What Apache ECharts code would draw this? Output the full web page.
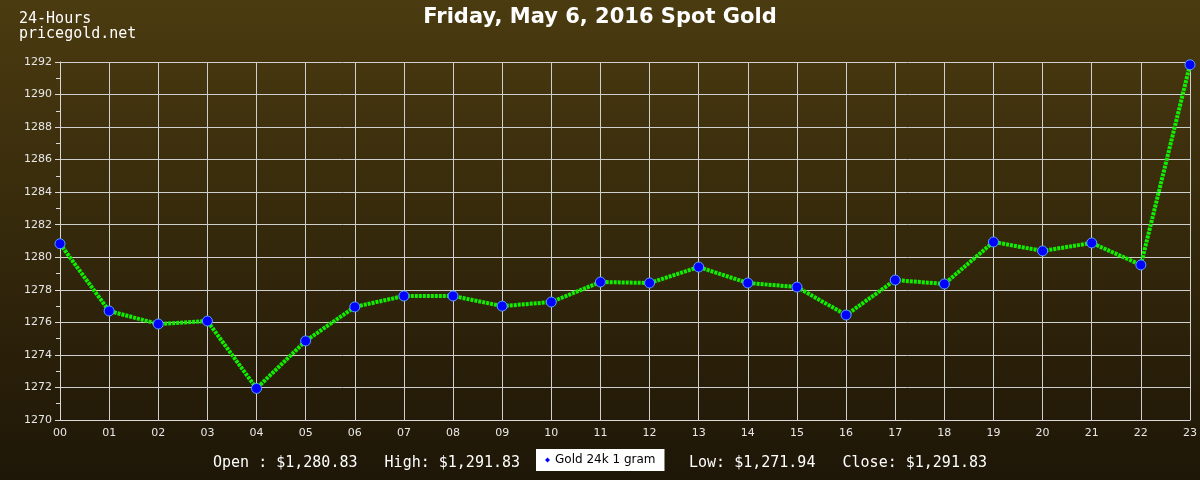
<!DOCTYPE html>
<html><head><meta charset="utf-8">
<script src="https://cdn.jsdelivr.net/npm/echarts@6/dist/echarts.min.js"></script>
<style>html,body{margin:0;padding:0;background:#2b200c}#c{width:1200px;height:480px}</style>
</head><body><div id="c"></div>
<script>
const hours = ['00','01','02','03','04','05','06','07','08','09','10','11','12','13','14','15','16','17','18','19','20','21','22','23'];
const prices = [1280.83,1276.70,1275.90,1276.08,1271.94,1274.86,1276.95,1277.62,1277.62,1277.00,1277.25,1278.48,1278.42,1279.40,1278.42,1278.17,1276.45,1278.60,1278.36,1280.94,1280.39,1280.88,1279.53,1291.83];
const yTicks = [1270,1292,2];
const titleText = 'Friday, May 6, 2016 Spot Gold';
const seriesName = 'Gold 24k 1 gram';
const statsLeft = 'Open : $1,280.83   High: $1,291.83';
const statsRight = 'Low: $1,271.94   Close: $1,291.83';

const chart = echarts.init(document.getElementById('c'));
chart.setOption({
  backgroundColor: new echarts.graphic.LinearGradient(0,0,0,1,[{offset:0,color:'#4b3b10'},{offset:1,color:'#1e1607'}]),
  animation:false,
  title:{text:titleText,left:'center',top:2,textStyle:{color:'#ffffff',fontSize:21,fontWeight:'bold',fontFamily:'DejaVu Sans'}},
  graphic:[
    {type:'text',left:19,top:12,style:{text:'24-Hours\npricegold.net',fill:'#ffffff',font:'15px "DejaVu Sans Mono"',lineHeight:15}},
    {type:'text',left:213,top:456,style:{text:statsLeft,fill:'#ffffff',font:'15px "DejaVu Sans Mono"'}},
    {type:'text',left:689,top:456,style:{text:statsRight,fill:'#ffffff',font:'15px "DejaVu Sans Mono"'}}
  ],
  legend:{data:[{name:seriesName,itemStyle:{color:'#0000ff',borderWidth:0}}],left:536,top:449,backgroundColor:'#ffffff',padding:[5,9,5,9],icon:'diamond',itemWidth:5,itemHeight:5,itemGap:8,
    textStyle:{color:'#000',fontSize:12,fontFamily:'DejaVu Sans'},borderRadius:0},
  grid:{left:60,right:10,top:62,bottom:60},
  xAxis:{type:'category',data:hours,boundaryGap:false,
    axisLine:{lineStyle:{color:'#d8d8d8'}},axisTick:{show:false},
    axisLabel:{color:'#e8e8e8',fontSize:11,fontFamily:'DejaVu Sans',margin:8,interval:0},
    splitLine:{show:true,interval:0,lineStyle:{color:'#cfcfcf',width:1}}},
  yAxis:{type:'value',min:yTicks[0],max:yTicks[1],interval:yTicks[2],
    axisLine:{show:true,lineStyle:{color:'#d8d8d8'}},
    axisTick:{show:true,length:5,lineStyle:{color:'#d8d8d8'}},
    minorTick:{show:true,splitNumber:2,length:4,lineStyle:{color:'#d8d8d8'}},
    axisLabel:{color:'#e8e8e8',fontSize:11,fontFamily:'DejaVu Sans',margin:8,formatter:v=>String(v)},
    splitLine:{lineStyle:{color:'#cfcfcf',width:1}}},
  series:[{name:seriesName,type:'line',data:prices,symbol:'circle',symbolSize:10,
    lineStyle:{color:'#11ee00',width:4,type:[3,1]},
    itemStyle:{color:'#0000ff',borderColor:'#5aa0ff',borderWidth:1}}]
});
</script></body></html>
